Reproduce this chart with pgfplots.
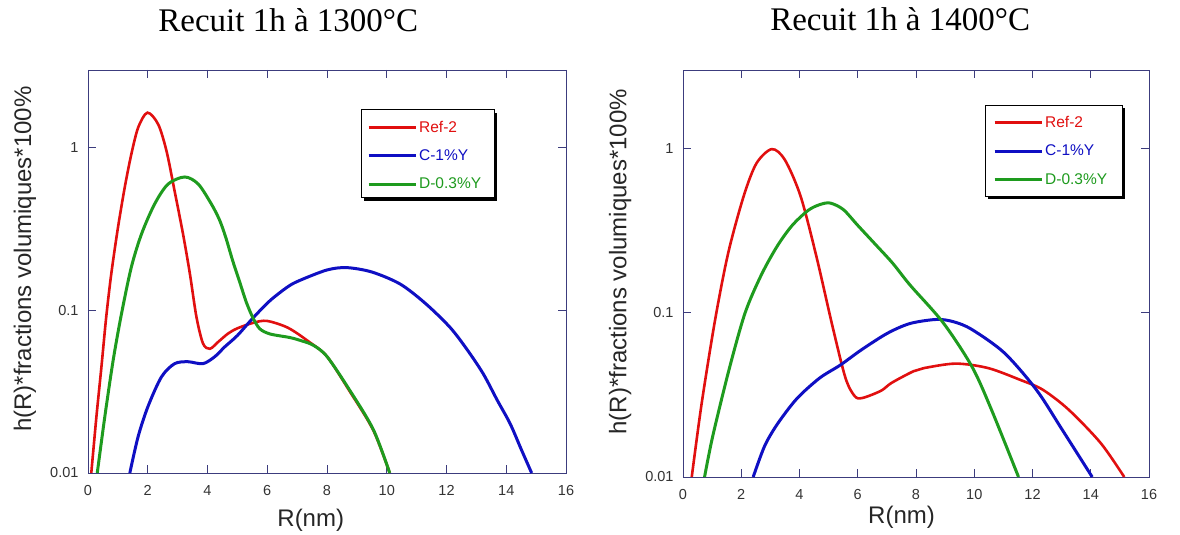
\documentclass[border=0pt]{standalone}
\usepackage{pgfplots}
\pgfplotsset{compat=1.18}
\usepackage{fontspec}
\setmainfont{Liberation Sans}
\newfontfamily\serifont{Liberation Serif}
\definecolor{cred}{RGB}{225,15,15}
\definecolor{cblue}{RGB}{15,15,195}
\definecolor{cgreen}{RGB}{30,155,30}
\definecolor{caxis}{RGB}{60,60,125}
\pgfplotsset{
  legend image code/.code={\draw[#1] (0pt,0pt) -- (47pt,0pt);},
}
\begin{document}
\begin{tikzpicture}
\path[use as bounding box] (0,0) rectangle (1180pt,535pt);
% ---------- left panel ----------
\begin{axis}[scale only axis, ymode=log, xmin=0, xmax=16, ymin=0.01, ymax=3,
  at={(88pt,62pt)}, anchor=south west, width=478pt, height=403pt,
  xtick={0,2,...,16}, ytick={0.01,0.1,1}, yticklabels={0.01,0.1,1},
  yminorticks=false, tick align=inside, major tick length=8pt,
  axis line style={caxis, line width=0.9pt},
  every tick/.append style={caxis, line width=0.9pt},
  tick label style={font=\fontsize{14.5}{17}\selectfont, text=black!80},
  /pgf/number format/assume math mode=true,
  xticklabel style={yshift=-9pt},
  yticklabel style={xshift=-6pt},
  xlabel={R(nm)}, ylabel={h(R)*fractions volumiques*100\%},
  label style={font=\fontsize{24}{28}\selectfont, text=black!85},
  title={Recuit 1h à 1300°C},
  title style={font=\serifont\fontsize{33}{38}\selectfont, anchor=base, at={(axis description cs:0.419,1)}, yshift=32pt},
  xlabel style={at={(axis description cs:0.466,-0.117)}, anchor=center},
  ylabel style={at={(axis description cs:-0.132,0.531)}, anchor=center},
  legend cell align=left,
  legend style={draw=none, fill=none, font=\fontsize{15.5}{18}\selectfont, row sep=12pt,
    inner sep=0pt, anchor=north west, at={(axis description cs:0.571,0.901)}, xshift=6pt, yshift=-9pt}]
\fill[black] (axis description cs:0.571,0.901) ++(3pt,-3pt) rectangle ++(133pt,-88pt);
\filldraw[fill=white, draw=black, line width=0.8pt] (axis description cs:0.571,0.901) rectangle ++(133pt,-88pt);
\addplot[cred, line width=2.6pt, smooth, tension=0.5, no marks] coordinates {
(0.11,0.01) (0.28,0.022) (0.45,0.045) (0.61,0.091) (0.78,0.168) (1.0,0.32) (1.23,0.57)
(1.45,0.91) (1.68,1.33) (1.99,1.64) (2.35,1.39) (2.63,0.95) (2.9,0.54) (3.18,0.295)
(3.41,0.168) (3.63,0.091) (3.85,0.0625) (4.08,0.058) (4.36,0.064) (4.69,0.072)
(5.0,0.0775) (5.55,0.084) (6.0,0.086) (6.7,0.078) (7.4,0.064) (8.0,0.052)
(8.75,0.032) (9.55,0.0183) (10.1,0.01)};
\addlegendentry{\textcolor{cred}{Ref-2}}
\addplot[cblue, line width=3pt, smooth, tension=0.5, no marks] coordinates {
(1.4,0.01) (1.68,0.0168) (2.01,0.0257) (2.46,0.039) (2.9,0.047) (3.35,0.0483)
(3.85,0.047) (4.25,0.052) (4.58,0.0597) (5.0,0.07) (5.53,0.09) (6.1,0.115) (6.7,0.14) (7.1,0.153)
(8.0,0.177) (8.66,0.183) (9.5,0.172) (10.45,0.145) (11.3,0.11) (12.12,0.0785)
(12.7,0.057) (13.23,0.0407) (13.7,0.028) (14.13,0.0201) (14.5,0.014) (14.85,0.01)};
\addlegendentry{\textcolor{cblue}{C-1\%Y}}
\addplot[cgreen, line width=3pt, smooth, tension=0.5, no marks] coordinates {
(0.31,0.01) (0.56,0.022) (0.84,0.049) (1.12,0.095) (1.45,0.184) (1.79,0.294)
(2.23,0.45) (2.68,0.597) (3.24,0.66) (3.69,0.597) (4.13,0.45) (4.4,0.36) (4.6,0.285)
(4.85,0.2) (5.1,0.145) (5.3,0.112) (5.52,0.09) (5.75,0.077) (6.1,0.0715) (6.76,0.068)
(7.14,0.065) (7.54,0.061) (8.0,0.052) (8.75,0.0325) (9.55,0.0185) (10.1,0.01)};
\addlegendentry{\textcolor{cgreen}{D-0.3\%Y}}
\end{axis}
% ---------- right panel ----------
\begin{axis}[scale only axis, ymode=log, xmin=0, xmax=16, ymin=0.01, ymax=3,
  at={(683pt,58pt)}, anchor=south west, width=466pt, height=407pt,
  xtick={0,2,...,16}, ytick={0.01,0.1,1}, yticklabels={0.01,0.1,1},
  yminorticks=false, tick align=inside, major tick length=8pt,
  axis line style={caxis, line width=0.9pt},
  every tick/.append style={caxis, line width=0.9pt},
  tick label style={font=\fontsize{14.5}{17}\selectfont, text=black!80},
  /pgf/number format/assume math mode=true,
  xticklabel style={yshift=-9pt},
  yticklabel style={xshift=-6pt},
  xlabel={R(nm)}, ylabel={h(R)*fractions volumiques*100\%},
  label style={font=\fontsize{24}{28}\selectfont, text=black!85},
  title={Recuit 1h à 1400°C},
  title style={font=\serifont\fontsize{33}{38}\selectfont, anchor=base, at={(axis description cs:0.466,1)}, yshift=33pt},
  xlabel style={at={(axis description cs:0.469,-0.10)}, anchor=center},
  ylabel style={at={(axis description cs:-0.135,0.529)}, anchor=center},
  legend cell align=left,
  legend style={draw=none, fill=none, font=\fontsize{15.5}{18}\selectfont, row sep=12pt,
    inner sep=0pt, anchor=north west, at={(axis description cs:0.648,0.914)}, xshift=8pt, yshift=-9pt}]
\fill[black] (axis description cs:0.648,0.914) ++(3pt,-3pt) rectangle ++(137pt,-91pt);
\filldraw[fill=white, draw=black, line width=0.8pt] (axis description cs:0.648,0.914) rectangle ++(137pt,-91pt);
\addplot[cred, line width=2.6pt, smooth, tension=0.5, no marks] coordinates {
(0.3,0.01) (0.64,0.028) (1.1,0.09) (1.55,0.23) (2.08,0.51) (2.52,0.81) (3.05,0.99)
(3.5,0.85) (4.04,0.51) (4.58,0.22) (5.13,0.083) (5.58,0.04) (5.9,0.031) (6.17,0.0303)
(6.8,0.0335) (7.16,0.0374) (7.91,0.044) (8.27,0.046) (9.37,0.049) (10.48,0.046)
(11.58,0.039) (12.35,0.034) (13.24,0.0257) (14.34,0.0161) (15.15,0.01)};
\addlegendentry{\textcolor{cred}{Ref-2}}
\addplot[cblue, line width=3pt, smooth, tension=0.5, no marks] coordinates {
(2.41,0.01) (2.8,0.0154) (3.24,0.021) (3.91,0.030) (4.69,0.040) (5.4,0.048)
(6.13,0.0595) (7.02,0.075) (7.8,0.086) (8.71,0.091) (9.3,0.088) (9.92,0.079)
(11.03,0.057) (12.13,0.034) (13.02,0.0194) (14.05,0.01)};
\addlegendentry{\textcolor{cblue}{C-1\%Y}}
\addplot[cgreen, line width=3pt, smooth, tension=0.5, no marks] coordinates {
(0.74,0.01) (1.02,0.0177) (1.58,0.045) (2.13,0.0995) (2.69,0.17) (3.24,0.255)
(3.75,0.34) (4.3,0.42) (4.7,0.455) (5.05,0.465) (5.5,0.425) (6.0,0.34) (6.61,0.26) (7.2,0.2)
(7.8,0.147) (8.93,0.087) (9.92,0.047) (10.59,0.0257) (11.52,0.01)};
\addlegendentry{\textcolor{cgreen}{D-0.3\%Y}}
\end{axis}
\end{tikzpicture}
\end{document}
